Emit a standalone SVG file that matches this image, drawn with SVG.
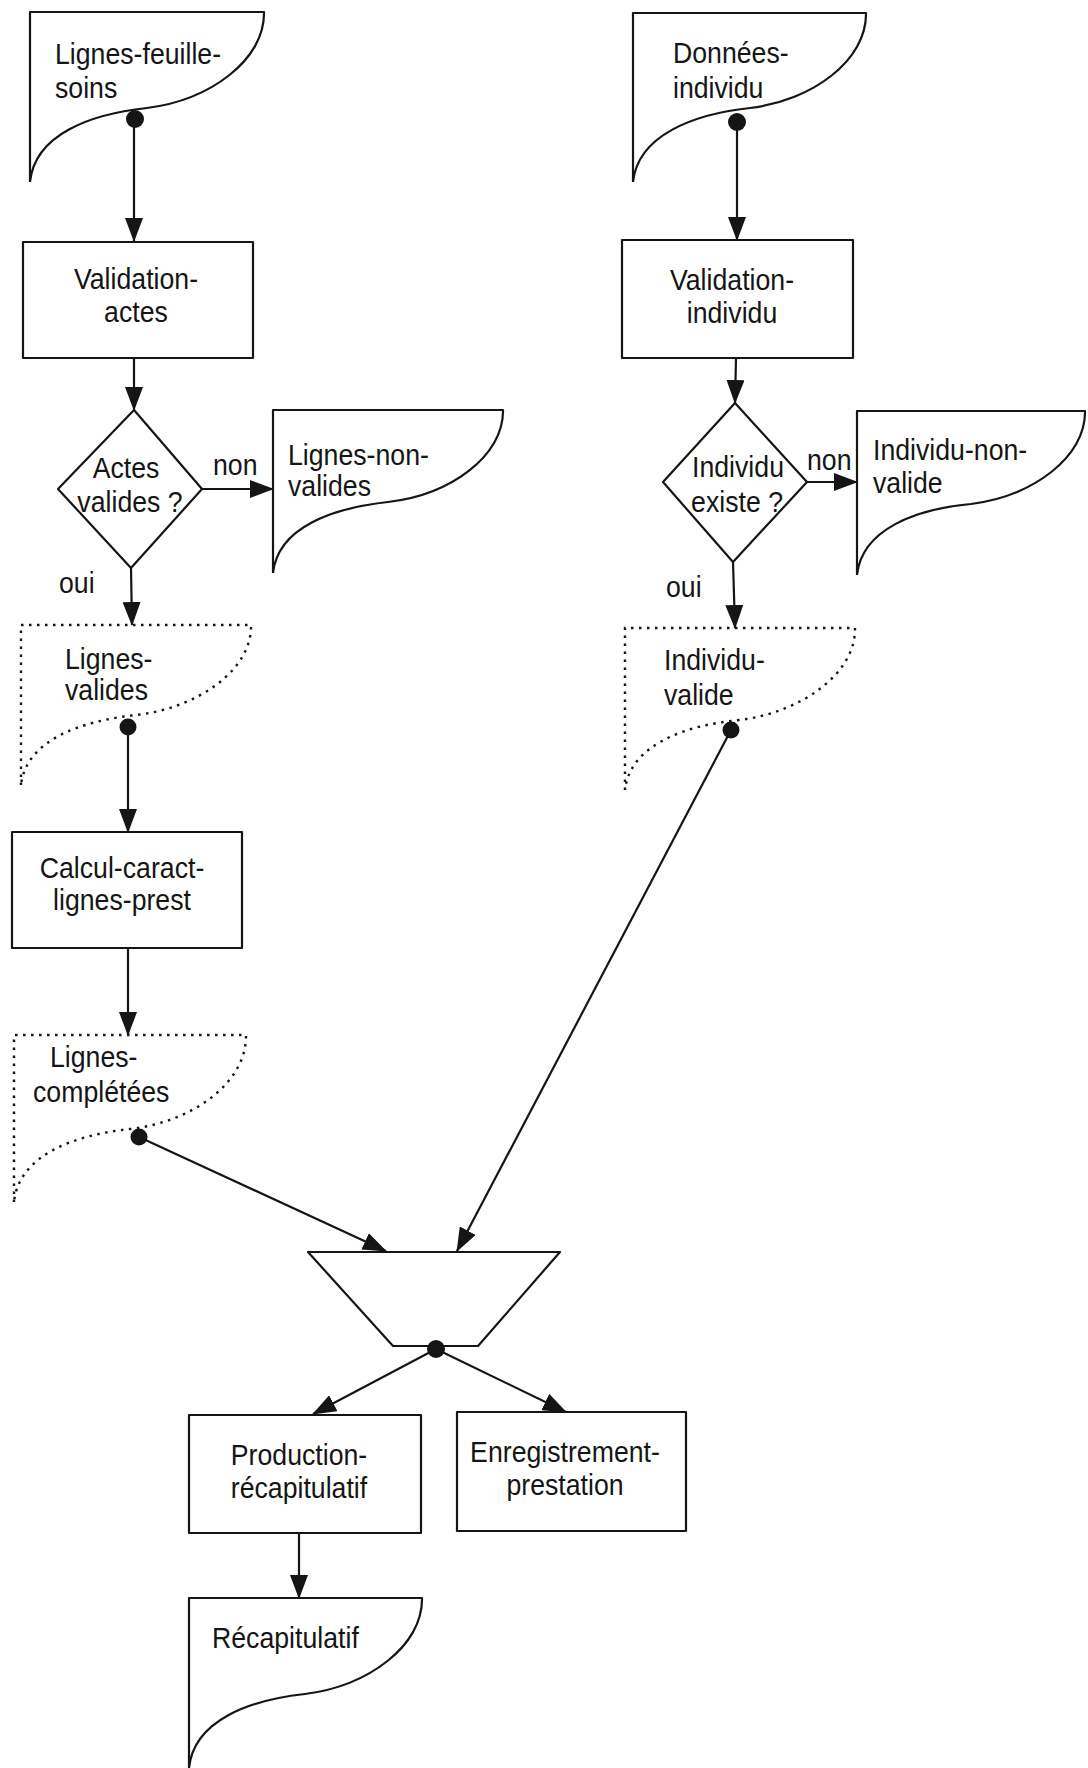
<svg xmlns="http://www.w3.org/2000/svg" width="1088" height="1768" viewBox="0 0 1088 1768">
<style>
.shape{fill:#fff;stroke:#151515;stroke-width:2.2;stroke-linejoin:round}
.dotted{fill:#fff;stroke:#151515;stroke-width:2.4;stroke-dasharray:2.5 5.5}
.conn{fill:none;stroke:#151515;stroke-width:2.2}
.dot{fill:#151515}
.t{font-family:"Liberation Sans",Arial,sans-serif;font-size:29px;fill:#151515}
.c{text-anchor:middle}
</style>
<defs>
<marker id="ah" viewBox="0 0 24 18" refX="23" refY="9" markerWidth="24" markerHeight="18" markerUnits="userSpaceOnUse" orient="auto">
<path d="M0,0 L24,9 L0,18 z" fill="#151515"/>
</marker>
</defs>
<rect width="1088" height="1768" fill="#fff"/>

<g id="lignes-feuille-soins">
<path class="shape" d="M30,182 L30,12 L264,12 C265,60 210,100 147,108 C91,114 35,134 30,182"/>
<text class="t" transform="matrix(0.92 0 0 1 55 64)">Lignes-feuille-</text>
<text class="t" transform="matrix(0.92 0 0 1 55 98)">soins</text>
</g>

<g id="validation-actes">
<rect class="shape" x="23" y="242" width="230" height="116"/>
<text class="t c" transform="matrix(0.92 0 0 1 136 289)">Validation-</text>
<text class="t c" transform="matrix(0.92 0 0 1 136 322)">actes</text>
</g>

<g id="actes-valides">
<path class="shape" d="M134,410 L202,489 L131,568 L58,489 Z"/>
<text class="t c" transform="matrix(0.92 0 0 1 126 478)">Actes</text>
<text class="t c" transform="matrix(0.92 0 0 1 130 512)">valides ?</text>
</g>

<g id="lignes-non-valides">
<path class="shape" d="M273,573 L273,410 L503,410 C504,456 450,495 388,502 C333,508 278,527 273,573"/>
<text class="t" transform="matrix(0.92 0 0 1 288 465)">Lignes-non-</text>
<text class="t" transform="matrix(0.92 0 0 1 288 496)">valides</text>
</g>

<g id="lignes-valides">
<path class="dotted" d="M21,785 L21,625 L251,625 C252,670 198,708 136,715 C81,721 26,740 21,785"/>
<text class="t" transform="matrix(0.92 0 0 1 65 669)">Lignes-</text>
<text class="t" transform="matrix(0.92 0 0 1 65 700)">valides</text>
</g>

<g id="calcul-caract-lignes-prest">
<rect class="shape" x="12" y="832" width="230" height="116"/>
<text class="t c" transform="matrix(0.92 0 0 1 122 878)">Calcul-caract-</text>
<text class="t c" transform="matrix(0.92 0 0 1 122 910)">lignes-prest</text>
</g>

<g id="lignes-completees">
<path class="dotted" d="M14,1202 L14,1035 L246,1035 C247,1082 193,1122 130,1129 C74,1135 19,1155 14,1202"/>
<text class="t" transform="matrix(0.92 0 0 1 50 1067)">Lignes-</text>
<text class="t" transform="matrix(0.92 0 0 1 33 1102)">complétées</text>
</g>

<g id="donnees-individu">
<path class="shape" d="M633,182 L633,13 L866,13 C867,60 812,101 750,108 C694,114 638,135 633,182"/>
<text class="t" transform="matrix(0.92 0 0 1 673 63)">Données-</text>
<text class="t" transform="matrix(0.92 0 0 1 673 98)">individu</text>
</g>

<g id="validation-individu">
<rect class="shape" x="622" y="240" width="231" height="118"/>
<text class="t c" transform="matrix(0.92 0 0 1 732 290)">Validation-</text>
<text class="t c" transform="matrix(0.92 0 0 1 732 323)">individu</text>
</g>

<g id="individu-existe">
<path class="shape" d="M735,403 L807,482 L733,562 L663,482 Z"/>
<text class="t c" transform="matrix(0.92 0 0 1 738 477)">Individu</text>
<text class="t c" transform="matrix(0.92 0 0 1 737 512)">existe ?</text>
</g>

<g id="individu-non-valide">
<path class="shape" d="M857,575 L857,411 L1085,411 C1086,457 1033,496 971,504 C916,509 862,529 857,575"/>
<text class="t" transform="matrix(0.92 0 0 1 873 460)">Individu-non-</text>
<text class="t" transform="matrix(0.92 0 0 1 873 493)">valide</text>
</g>

<g id="individu-valide">
<path class="dotted" d="M625,790 L625,628 L855,628 C856,673 802,712 740,720 C685,725 630,745 625,790"/>
<text class="t" transform="matrix(0.92 0 0 1 664 670)">Individu-</text>
<text class="t" transform="matrix(0.92 0 0 1 664 705)">valide</text>
</g>

<g id="fusion">
<path class="shape" d="M308,1252 L560,1252 L478,1346 L393,1346 Z"/>
</g>

<g id="production-recapitulatif">
<rect class="shape" x="189" y="1415" width="232" height="118"/>
<text class="t c" transform="matrix(0.92 0 0 1 299 1465)">Production-</text>
<text class="t c" transform="matrix(0.92 0 0 1 299 1498)">récapitulatif</text>
</g>

<g id="enregistrement-prestation">
<rect class="shape" x="457" y="1412" width="229" height="119"/>
<text class="t c" transform="matrix(0.92 0 0 1 565 1462)">Enregistrement-</text>
<text class="t c" transform="matrix(0.92 0 0 1 565 1495)">prestation</text>
</g>

<g id="recapitulatif">
<path class="shape" d="M189,1768 L189,1598 L422,1598 C423,1646 368,1686 305,1694 C250,1700 194,1720 189,1768"/>
<text class="t" transform="matrix(0.92 0 0 1 212 1648)">Récapitulatif</text>
</g>

<g id="connectors">
<line class="conn" x1="134" y1="119" x2="134" y2="241" marker-end="url(#ah)"/>
<line class="conn" x1="134" y1="358" x2="134" y2="410" marker-end="url(#ah)"/>
<line class="conn" x1="202" y1="489" x2="273" y2="489" marker-end="url(#ah)"/>
<line class="conn" x1="131" y1="568" x2="132" y2="625" marker-end="url(#ah)"/>
<line class="conn" x1="128" y1="727" x2="128" y2="832" marker-end="url(#ah)"/>
<line class="conn" x1="128" y1="948" x2="128" y2="1035" marker-end="url(#ah)"/>
<line class="conn" x1="139" y1="1137" x2="386" y2="1251" marker-end="url(#ah)"/>
<line class="conn" x1="737" y1="122" x2="737" y2="240" marker-end="url(#ah)"/>
<line class="conn" x1="736" y1="358" x2="735" y2="403" marker-end="url(#ah)"/>
<line class="conn" x1="807" y1="482" x2="857" y2="482" marker-end="url(#ah)"/>
<line class="conn" x1="733" y1="562" x2="735" y2="628" marker-end="url(#ah)"/>
<line class="conn" x1="731" y1="730" x2="457" y2="1251" marker-end="url(#ah)"/>
<line class="conn" x1="436" y1="1349" x2="313" y2="1414" marker-end="url(#ah)"/>
<line class="conn" x1="436" y1="1349" x2="566" y2="1412" marker-end="url(#ah)"/>
<line class="conn" x1="299" y1="1533" x2="299" y2="1598" marker-end="url(#ah)"/>
<circle class="dot" cx="135" cy="119" r="9"/>
<circle class="dot" cx="737" cy="122" r="9"/>
<circle class="dot" cx="128" cy="727" r="8.5"/>
<circle class="dot" cx="731" cy="730" r="8.5"/>
<circle class="dot" cx="139" cy="1137" r="8.5"/>
<circle class="dot" cx="436" cy="1349" r="9"/>
<text class="t" transform="matrix(0.92 0 0 1 213 475)">non</text>
<text class="t" transform="matrix(0.92 0 0 1 807 470)">non</text>
<text class="t" transform="matrix(0.92 0 0 1 59 593)">oui</text>
<text class="t" transform="matrix(0.92 0 0 1 666 597)">oui</text>
</g>
</svg>
